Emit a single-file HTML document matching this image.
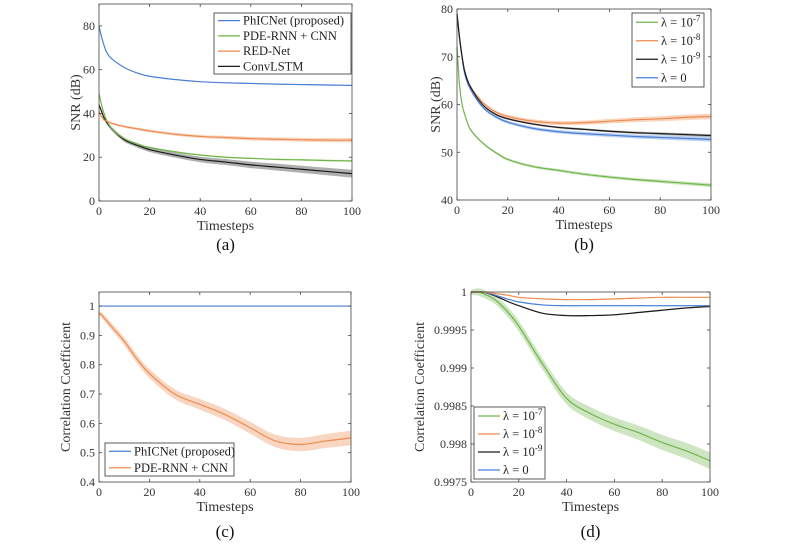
<!DOCTYPE html>
<html><head><meta charset="utf-8"><style>
body{margin:0;background:#fff;}
svg{display:block;font-family:"Liberation Serif",serif;}
</style></head><body>
<svg id="fig" width="789" height="551" viewBox="0 0 789 551"></svg>
<script>
const xs = [0,1,2,3,5,10,15,20,30,40,50,60,70,80,90,100];
const aBlue  = [80,75,71,68,65,61,58.5,57,55.5,54.5,54,53.7,53.4,53.2,53,52.8];
const aGreen = [49,44,40,37,33,28.5,26,24.5,22.5,21,20,19.5,19,18.8,18.5,18.3];
const aOrange= [41,38.5,37,36.5,35.5,34,33,32,30.5,29.5,29,28.5,28.2,28,27.8,27.8];
const aBlack = [44,41,38,36,33,28,25.5,23.5,21,19,17.8,16.5,15.5,14.5,13.5,12.5];
const bGreen = [72,64,60,58,55,52,50,48.5,47,46.2,45.4,44.8,44.3,43.9,43.5,43.1];
const bOrange= [79,74,70,67,64,60.5,58.5,57.5,56.5,56.1,56.2,56.5,56.8,57,57.3,57.5];
const bBlack = [79,74,70,67,64,60,58,57,55.9,55.2,54.8,54.4,54.1,53.9,53.7,53.5];
const bBlue  = [79,74,70,66.5,63.5,59.5,57.5,56.3,55,54.3,53.9,53.6,53.3,53.1,52.9,52.7];
const cBlue  = [1,1,1,1,1,1,1,1,1,1,1,1,1,1,1,1];
const cOrange= [0.975,0.97,0.96,0.95,0.93,0.88,0.82,0.77,0.70,0.665,0.63,0.585,0.54,0.528,0.54,0.55];
const dGreen = [1,1,1,1,0.99998,0.9999,0.99975,0.99955,0.99905,0.9986,0.9984,0.99826,0.99815,0.99802,0.99791,0.99778];
const dOrange= [1,1,1,1,1,0.99998,0.99996,0.99993,0.99991,0.9999,0.9999,0.99991,0.99992,0.99993,0.99993,0.99993];
const dBlack = [1,1,1,1,1,0.99995,0.99988,0.99982,0.99972,0.99969,0.99969,0.9997,0.99973,0.99976,0.99979,0.99981];
const dBlue  = [1,1,1,1,1,0.99996,0.99991,0.99987,0.99983,0.99982,0.99982,0.99982,0.99982,0.99982,0.99982,0.99982];
const xTicks = [0,20,40,60,80,100];
const aTicks = [0,20,40,60,80];
const bTicks = [40,50,60,70,80];
const cTicks = [0.4,0.5,0.6,0.7,0.8,0.9,1];
const cTickLabels = ["0.4","0.5","0.6","0.7","0.8","0.9","1"];
const dTicks = [0.9975,0.998,0.9985,0.999,0.9995,1];
const dTickLabels = ["0.9975","0.998","0.9985","0.999","0.9995","1"];

const NS="http://www.w3.org/2000/svg";
const svg=document.getElementById('fig');
function mk(tag,attrs,parent){const e=document.createElementNS(NS,tag);for(const k in attrs)e.setAttribute(k,attrs[k]);(parent||svg).appendChild(e);return e;}
const C={blue:'#4a7fd6',green:'#6fb54a',orange:'#ef8a4e',black:'#1a1a1a'};

// smooth path through points (Catmull-Rom -> cubic bezier, non-uniform safe)
function smooth(pts,moveFirst){
  let d=(moveFirst?'M':'L')+pts[0][0]+','+pts[0][1];
  for(let i=0;i<pts.length-1;i++){
    const p0=pts[i-1]||pts[i],p1=pts[i],p2=pts[i+1],p3=pts[i+2]||p2;
    const h=p2[0]-p1[0];
    const m1=(p2[1]-p0[1])/((p2[0]-p0[0])||1), m2=(p3[1]-p1[1])/((p3[0]-p1[0])||1);
    d+=` C${p1[0]+h/3},${p1[1]+m1*h/3} ${p2[0]-h/3},${p2[1]-m2*h/3} ${p2[0]},${p2[1]}`;
  }
  return d;
}

function panel(id,box,ymin,ymax,yt,ytl,series,ylabel,caption,legend){
  const g=mk('g',{});
  
  
  const X=v=>box.x0+(v/100)*(box.x1-box.x0);
  const Y=v=>box.y1-(v-ymin)/(ymax-ymin)*(box.y1-box.y0);
  series.forEach(s=>{
    const up=s.vals.map((v,i)=>[X(xs[i]),Y(v+s.band*(0.3+0.7*i/15))]);
    const dn=s.vals.map((v,i)=>[X(xs[i]),Y(v-s.band*(0.3+0.7*i/15))]).reverse();
    const band=mk('path',{d:smooth(up,true)+smooth(dn,false)+'Z',fill:s.color,opacity:0.35},g);
    
    
    const l=mk('path',{d:smooth(s.vals.map((v,i)=>[X(xs[i]),Y(v)]),true),fill:'none',stroke:s.color,'stroke-width':1.2},g);
    
    
  });
  const fr=mk('rect',{x:box.x0,y:box.y0,width:box.x1-box.x0,height:box.y1-box.y0,fill:'none',stroke:'#444','stroke-width':0.8},g);
  
  
  xTicks.forEach(t=>{
    mk('line',{x1:X(t),x2:X(t),y1:box.y1,y2:box.y1-3,stroke:'#444','stroke-width':0.8},g);
    mk('line',{x1:X(t),x2:X(t),y1:box.y0,y2:box.y0+3,stroke:'#444','stroke-width':0.8},g);
    const tx=mk('text',{x:X(t),y:box.y1+14,'text-anchor':'middle','font-size':12,fill:'#333'},g);
    tx.textContent=t;
    
    
  });
  yt.forEach((t,i)=>{
    mk('line',{x1:box.x0,x2:box.x0+3,y1:Y(t),y2:Y(t),stroke:'#444','stroke-width':0.8},g);
    mk('line',{x1:box.x1,x2:box.x1-3,y1:Y(t),y2:Y(t),stroke:'#444','stroke-width':0.8},g);
    const tx=mk('text',{x:box.x0-4,y:Y(t)+4,'text-anchor':'end','font-size':12,fill:'#333'},g);
    tx.textContent=ytl?ytl[i]:t;
    
    
  });
  const xl=mk('text',{x:(box.x0+box.x1)/2,y:box.y1+29,'text-anchor':'middle','font-size':14,fill:'#333'},g);
  xl.textContent='Timesteps';
  
  
  const yx=box.ylx, yy=(box.y0+box.y1)/2;
  const yl=mk('text',{x:yx,y:yy,'text-anchor':'middle','font-size':14,fill:'#333',transform:`rotate(-90 ${yx} ${yy})`},g);
  yl.textContent=ylabel;
  
  
  const cp=mk('text',{x:(box.x0+box.x1)/2,y:box.cy,'text-anchor':'middle','font-size':17,fill:'#111'},g);
  cp.textContent=caption;
  
  
  const lg=mk('g',{},g);
  
  
  mk('rect',{x:legend.x,y:legend.y,width:legend.w,height:legend.h,fill:'#fff',stroke:'#333','stroke-width':0.8},lg);
  const step=legend.h/legend.items.length;
  legend.items.forEach((it,i)=>{
    const cy=legend.y+step*(i+0.5);
    mk('line',{x1:legend.x+4,x2:legend.x+26,y1:cy,y2:cy,stroke:it.color,'stroke-width':1.3},lg);
    const t=mk('text',{x:legend.x+29,y:cy+4,'font-size':12.5,fill:'#222'},lg);
    t.innerHTML=it.label;
    
    
  });
}
const lam=(e)=>`λ = 10<tspan dy="-5" font-size="9">-${e}</tspan>`;
panel('a',{x0:99,x1:352,y0:4,y1:201,ylx:80,cy:250},0,90,aTicks,null,[
 {key:'convlstm',vals:aBlack,color:C.black,band:1.8},
 {key:'pde-rnn',vals:aGreen,color:C.green,band:0.4},
 {key:'red-net',vals:aOrange,color:C.orange,band:1.0},
 {key:'phicnet',vals:aBlue,color:C.blue,band:0.3}],'SNR (dB)','(a)',
 {x:214,y:13,w:137,h:61,items:[{label:'PhICNet (proposed)',color:C.blue},{label:'PDE-RNN + CNN',color:C.green},{label:'RED-Net',color:C.orange},{label:'ConvLSTM',color:C.black}]});
panel('b',{x0:457,x1:711,y0:9,y1:200,ylx:440,cy:250},40,80,bTicks,null,[
 {key:'lambda-1e-7',vals:bGreen,color:C.green,band:0.4},
 {key:'lambda-1e-8',vals:bOrange,color:C.orange,band:0.6},
 {key:'lambda-0',vals:bBlue,color:C.blue,band:0.5},
 {key:'lambda-1e-9',vals:bBlack,color:C.black,band:0.3}],'SNR (dB)','(b)',
 {x:632,y:13,w:72,h:74,items:[{label:lam(7),color:C.green},{label:lam(8),color:C.orange},{label:lam(9),color:C.black},{label:'λ = 0',color:C.blue}]});
panel('c',{x0:99,x1:351,y0:292,y1:482,ylx:70,cy:537},0.4,1.048,cTicks,cTickLabels,[
 {key:'pde-rnn',vals:cOrange,color:C.orange,band:0.025},
 {key:'phicnet',vals:cBlue,color:C.blue,band:0}],'Correlation Coefficient','(c)',
 {x:105,y:443,w:129,h:33,items:[{label:'PhICNet (proposed)',color:C.blue},{label:'PDE-RNN + CNN',color:C.orange}]});
panel('d',{x0:471,x1:710,y0:292,y1:482,ylx:424,cy:537},0.9975,1.0,dTicks,dTickLabels,[
 {key:'lambda-1e-7',vals:dGreen,color:C.green,band:0.00011},
 {key:'lambda-1e-9',vals:dBlack,color:C.black,band:0.00001},
 {key:'lambda-0',vals:dBlue,color:C.blue,band:0.000008},
 {key:'lambda-1e-8',vals:dOrange,color:C.orange,band:0.000004}],'Correlation Coefficient','(d)',
 {x:474,y:407,w:71,h:72,items:[{label:lam(7),color:C.green},{label:lam(8),color:C.orange},{label:lam(9),color:C.black},{label:'λ = 0',color:C.blue}]});
</script>
</body></html>
